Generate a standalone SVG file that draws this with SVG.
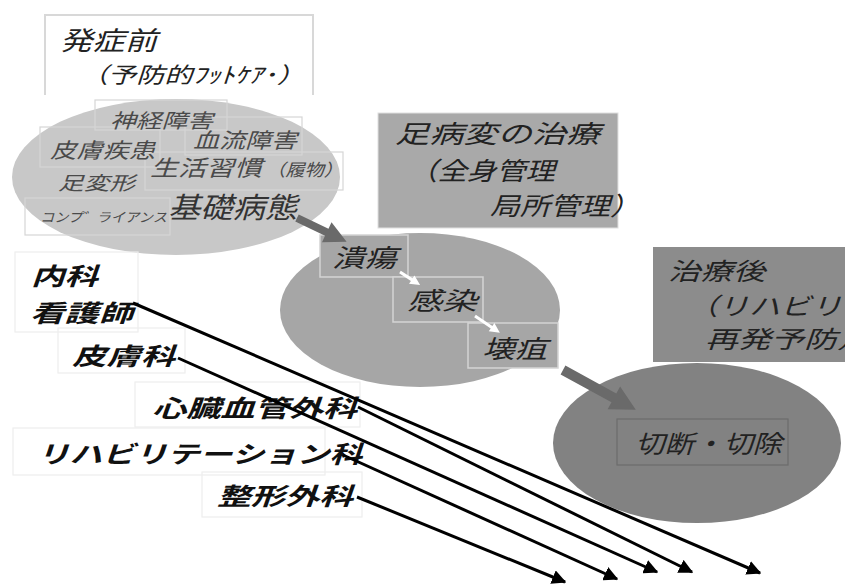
<svg xmlns="http://www.w3.org/2000/svg" width="845" height="586" viewBox="0 0 845 586">
<style>
text{font-family:"Noto Sans CJK JP","Noto Sans CJK SC",sans-serif;font-style:italic}
.faint{fill:none;stroke:#ededed;stroke-width:1.2}
.faintin{fill:none;stroke:#d6d6d6;stroke-width:1.2}
.inner{fill:#4a4a4a}
.head{fill:#222}
.lbl{fill:#111;font-weight:bold}
.sbox{stroke:#d4d4d4;stroke-width:1.5}
.conn{stroke:#000;stroke-width:3;fill:none;marker-end:url(#ah)}
</style>
<defs>
<marker id="ah" viewBox="0 0 10 10" refX="9" refY="5" markerWidth="4.8" markerHeight="4.8" orient="auto" markerUnits="strokeWidth">
<path d="M0,0 L10,5 L0,10 z" fill="#000"/>
</marker>
</defs>
<rect width="845" height="586" fill="#fff"/>

<g id="before">
<path d="M45,95 V15 H313 V95" fill="none" stroke="#d8d8d8" stroke-width="2"/>
<text x="60" y="50" font-size="26" class="head" textLength="97" lengthAdjust="spacingAndGlyphs">発症前</text>
<text x="80" y="83" font-size="22" class="head" textLength="225" lengthAdjust="spacingAndGlyphs">（予防的ﾌｯﾄｹｱ･）</text>
</g>

<g id="base-ellipse">
<ellipse cx="176" cy="177" rx="164" ry="78" fill="#c8c8c8"/>
<rect class="faintin" x="95" y="100" width="132" height="30"/>
<rect class="faintin" x="40" y="127" width="120" height="40"/>
<rect class="faintin" x="185" y="117" width="117" height="38"/>
<rect class="faintin" x="145" y="152" width="198" height="38"/>
<rect class="faintin" x="25" y="198" width="145" height="37"/>
<text x="110" y="128" font-size="20" class="inner" textLength="103" lengthAdjust="spacingAndGlyphs">神経障害</text>
<text x="50" y="158" font-size="21" class="inner" textLength="105" lengthAdjust="spacingAndGlyphs">皮膚疾患</text>
<text x="193" y="148" font-size="21" class="inner" textLength="104" lengthAdjust="spacingAndGlyphs">血流障害</text>
<text x="150" y="176" font-size="22" class="inner" textLength="112" lengthAdjust="spacingAndGlyphs">生活習慣</text>
<text x="266" y="176" font-size="17" class="inner" textLength="77" lengthAdjust="spacingAndGlyphs">（履物）</text>
<text x="58" y="190" font-size="19" class="inner" textLength="77" lengthAdjust="spacingAndGlyphs">足変形</text>
<text x="40" y="222" font-size="13" class="inner" textLength="127" lengthAdjust="spacingAndGlyphs">コンプ゛ライアンス</text>
<text x="168" y="218" font-size="29" fill="#333" textLength="129" lengthAdjust="spacingAndGlyphs">基礎病態</text>
</g>

<g id="treatment-box">
<rect x="378" y="113" width="240" height="115" fill="#a9a9a9" stroke="#e0e0e0" stroke-width="1"/>
<text x="395" y="143" font-size="25" class="head" textLength="205" lengthAdjust="spacingAndGlyphs">足病変の治療</text>
<text x="408" y="180" font-size="25" class="head" textLength="147" lengthAdjust="spacingAndGlyphs">（全身管理</text>
<text x="490" y="215" font-size="25" class="head" textLength="150" lengthAdjust="spacingAndGlyphs">局所管理）</text>
</g>

<g id="lesion-ellipse">
<ellipse cx="420" cy="310" rx="140" ry="77" fill="#a6a6a6"/>
</g>
<g id="ulcer">
<rect class="sbox" x="320" y="235" width="88" height="42" fill="#a6a6a6"/>
<text x="332" y="267" font-size="25" class="head" textLength="65" lengthAdjust="spacingAndGlyphs">潰瘍</text>
</g>
<g id="infection">
<rect class="sbox" x="393" y="277" width="90" height="45" fill="#a6a6a6"/>
<text x="407" y="310" font-size="25" class="head" textLength="70" lengthAdjust="spacingAndGlyphs">感染</text>
</g>
<g id="gangrene">
<rect class="sbox" x="468" y="323" width="90" height="45" fill="#a6a6a6"/>
<text x="482" y="358" font-size="25" class="head" textLength="65" lengthAdjust="spacingAndGlyphs">壊疽</text>
</g>

<g id="after-box">
<rect x="653" y="247" width="200" height="115" fill="#8c8c8c"/>
<text x="668" y="280" font-size="24" class="head" textLength="97" lengthAdjust="spacingAndGlyphs">治療後</text>
<text x="687" y="315" font-size="24" class="head" textLength="155" lengthAdjust="spacingAndGlyphs">（リハビリ</text>
<text x="705" y="348" font-size="24" class="head" textLength="165" lengthAdjust="spacingAndGlyphs">再発予防）</text>
</g>

<g id="amputation-ellipse">
<ellipse cx="697" cy="443" rx="144" ry="80" fill="#828282"/>
</g>
<g id="amputation">
<rect x="617" y="419" width="171" height="46" fill="#828282" stroke="#6c6c6c" stroke-width="1.2"/>
<text x="635" y="453" font-size="25" class="head" textLength="147" lengthAdjust="spacingAndGlyphs">切断・切除</text>
</g>

<g id="departments">
<rect class="faint" x="15" y="252" width="123" height="80"/>
<rect class="faint" x="58" y="328" width="127" height="45"/>
<rect class="faint" x="135" y="382" width="225" height="45"/>
<rect class="faint" x="13" y="428" width="312" height="47"/>
<rect class="faint" x="202" y="472" width="160" height="45"/>
<text x="31" y="285" font-size="24" class="lbl" textLength="67" lengthAdjust="spacingAndGlyphs">内科</text>
<text x="30" y="322" font-size="24" class="lbl" textLength="103" lengthAdjust="spacingAndGlyphs">看護師</text>
<text x="72" y="365" font-size="24" class="lbl" textLength="103" lengthAdjust="spacingAndGlyphs">皮膚科</text>
<text x="152" y="417" font-size="24" class="lbl" textLength="205" lengthAdjust="spacingAndGlyphs">心臓血管外科</text>
<text x="37" y="463" font-size="24" class="lbl" textLength="325" lengthAdjust="spacingAndGlyphs">リハビリテーション科</text>
<text x="217" y="505" font-size="24" class="lbl" textLength="136" lengthAdjust="spacingAndGlyphs">整形外科</text>
</g>

<g id="connectors">
<g transform="translate(297,218) rotate(25.6)">
<polygon points="0,-4 33,-4 33,-11 55,0 33,11 33,4 0,4" fill="#6a6a6a"/>
</g>
<g transform="translate(563,370) rotate(28.7)">
<polygon points="0,-5 58,-5 58,-13 83,0 58,13 58,5 0,5" fill="#6a6a6a"/>
</g>
<g transform="translate(400,272) rotate(33)">
<polygon points="0,-1.5 14,-1.5 14,-5 24,0 14,5 14,1.5 0,1.5" fill="#fff"/>
</g>
<g transform="translate(475,316) rotate(34)">
<polygon points="0,-1.5 20,-1.5 20,-5 30,0 20,5 20,1.5 0,1.5" fill="#fff"/>
</g>
<path class="conn" d="M133,303 L760,573"/>
<path class="conn" d="M178,358 L657,572"/>
<path class="conn" d="M358,407 L692,572"/>
<path class="conn" d="M343,455 L617,579"/>
<path class="conn" d="M357,497 L565,582"/>
</g>
</svg>
